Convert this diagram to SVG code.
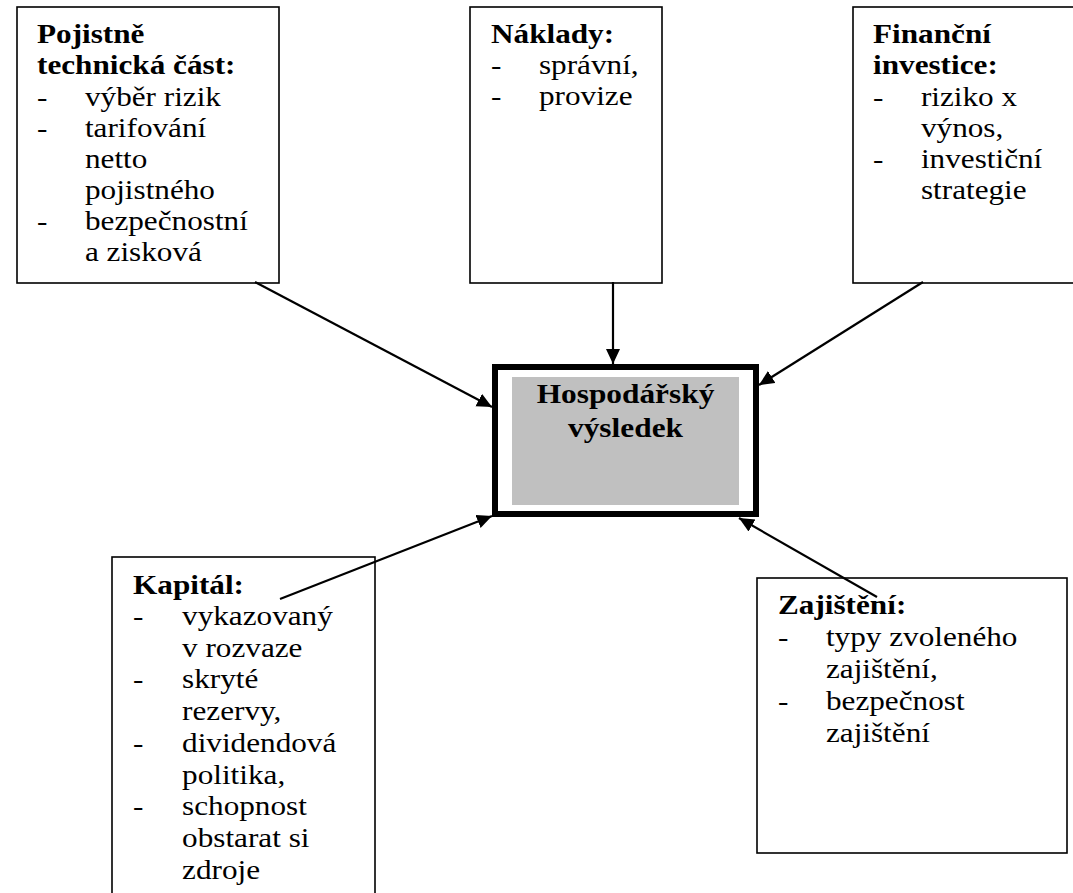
<svg xmlns="http://www.w3.org/2000/svg" width="1073" height="893" viewBox="0 0 1073 893">
  <style>
    .box { fill: #ffffff; stroke: #000000; stroke-width: 1.6; }
    .txt { font-family: "Liberation Serif", "Times New Roman", serif; font-size: 28px; fill: #000000; }
    .hd { font-weight: bold; }
    .conn { stroke: #000000; stroke-width: 2.2; fill: none; marker-end: url(#arrow); }
  </style>
  <defs>
    <marker id="arrow" markerUnits="userSpaceOnUse" markerWidth="16" markerHeight="16" refX="15" refY="7" orient="auto">
      <path d="M0,0 L15,7 L0,14 z" fill="#000000"/>
    </marker>
  </defs>
  <rect width="1073" height="893" fill="#ffffff"/>

  <!-- Pojistně technická část -->
  <g id="node-pojistne">
    <rect class="box" x="17" y="7" width="262" height="276"/>
    <g class="txt" transform="translate(37,0) scale(1.115,1)">
      <text class="hd" x="0" y="43">Pojistně</text>
      <text class="hd" x="0" y="74">technická část:</text>
      <text x="0" y="106">-</text><text x="43" y="106">výběr rizik</text>
      <text x="0" y="137">-</text><text x="43" y="137">tarifování</text>
      <text x="43" y="168">netto</text>
      <text x="43" y="199">pojistného</text>
      <text x="0" y="230">-</text><text x="43" y="230">bezpečnostní</text>
      <text x="43" y="261">a zisková</text>
    </g>
  </g>

  <!-- Náklady -->
  <g id="node-naklady">
    <rect class="box" x="470" y="7" width="192" height="276"/>
    <g class="txt" transform="translate(491,0) scale(1.115,1)">
      <text class="hd" x="0" y="43">Náklady:</text>
      <text x="0" y="74">-</text><text x="43" y="74">správní,</text>
      <text x="0" y="105">-</text><text x="43" y="105">provize</text>
    </g>
  </g>

  <!-- Finanční investice -->
  <g id="node-financni">
    <rect class="box" x="853" y="7" width="240" height="276"/>
    <g class="txt" transform="translate(873,0) scale(1.115,1)">
      <text class="hd" x="0" y="43">Finanční</text>
      <text class="hd" x="0" y="74">investice:</text>
      <text x="0" y="106">-</text><text x="43" y="106">riziko x</text>
      <text x="43" y="137">výnos,</text>
      <text x="0" y="168">-</text><text x="43" y="168">investiční</text>
      <text x="43" y="199">strategie</text>
    </g>
  </g>

  <!-- Hospodářský výsledek (central node) -->
  <g id="node-vysledek">
    <rect x="495" y="367" width="261" height="147" fill="#ffffff" stroke="#000000" stroke-width="6"/>
    <rect x="512" y="377" width="227" height="128" fill="#c0c0c0"/>
    <g class="txt hd" text-anchor="middle" transform="translate(625.5,0) scale(1.12,1)">
      <text x="0" y="403">Hospodářský</text>
      <text x="0" y="437">výsledek</text>
    </g>
  </g>

  <!-- Kapitál -->
  <g id="node-kapital">
    <rect class="box" x="112" y="557" width="263" height="350"/>
    <g class="txt" transform="translate(133,0) scale(1.115,1)">
      <text class="hd" x="0" y="594">Kapitál:</text>
      <text x="0" y="625">-</text><text x="44" y="625">vykazovaný</text>
      <text x="44" y="657">v rozvaze</text>
      <text x="0" y="688">-</text><text x="44" y="688">skryté</text>
      <text x="44" y="720">rezervy,</text>
      <text x="0" y="752">-</text><text x="44" y="752">dividendová</text>
      <text x="44" y="784">politika,</text>
      <text x="0" y="815">-</text><text x="44" y="815">schopnost</text>
      <text x="44" y="847">obstarat si</text>
      <text x="44" y="879">zdroje</text>
    </g>
  </g>

  <!-- Zajištění -->
  <g id="node-zajisteni">
    <rect class="box" x="757" y="578" width="310" height="275"/>
    <g class="txt" transform="translate(778,0) scale(1.115,1)">
      <text class="hd" x="0" y="614">Zajištění:</text>
      <text x="0" y="646">-</text><text x="43" y="646">typy zvoleného</text>
      <text x="43" y="678">zajištění,</text>
      <text x="0" y="710">-</text><text x="43" y="710">bezpečnost</text>
      <text x="43" y="742">zajištění</text>
    </g>
  </g>

  <!-- Connectors -->
  <g id="connectors">
    <line class="conn" x1="255" y1="282" x2="492" y2="407"/>
    <line class="conn" x1="613" y1="282" x2="613" y2="364"/>
    <line class="conn" x1="923" y1="282" x2="759" y2="385"/>
    <line class="conn" x1="280" y1="599" x2="492" y2="516"/>
    <line class="conn" x1="877" y1="597" x2="739" y2="518"/>
  </g>
</svg>
